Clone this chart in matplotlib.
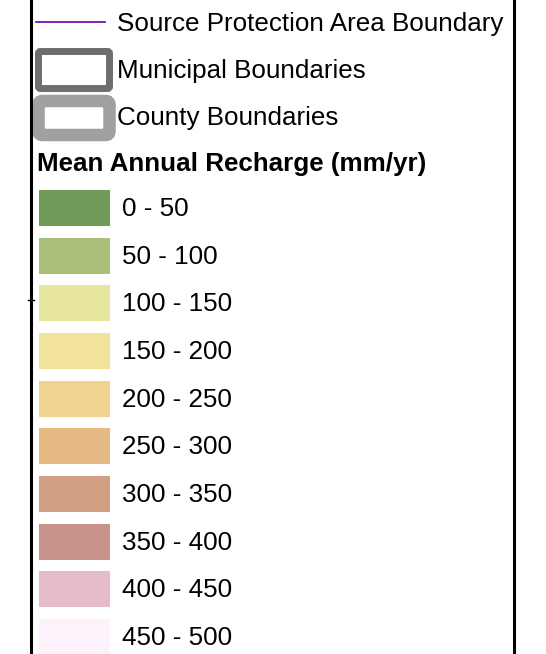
import matplotlib
matplotlib.use("Agg")
import matplotlib.pyplot as plt
from matplotlib.patches import Rectangle, FancyBboxPatch

plt.rcParams['font.family'] = ['Liberation Sans', 'DejaVu Sans']

# legend content
line_label = 'Source Protection Area Boundary'
box_labels = ['Municipal Boundaries', 'County Boundaries']
title = 'Mean Annual Recharge (mm/yr)'
class_labels = ['0 - 50', '50 - 100', '100 - 150', '150 - 200', '200 - 250',
                '250 - 300', '300 - 350', '350 - 400', '400 - 450', '450 - 500']
class_colors = ['#709a5a', '#aac07a', '#e6e69e', '#f2e39a', '#f0d38e',
                '#e4b983', '#d29e84', '#c8918a', '#e6bcc8', '#fdf2fc']

W, H = 546, 654
fig = plt.figure(figsize=(W / 100, H / 100), dpi=100)
ax = fig.add_axes([0, 0, 1, 1])
ax.set_xlim(0, W)
ax.set_ylim(H, 0)
ax.axis('off')

fs = 18.7

# frame lines on both sides
ax.plot([31, 31], [0, H], color='black', lw=2.2)
ax.plot([514, 514], [0, H], color='black', lw=2.2)
ax.plot([28, 34], [300, 300], color='black', lw=1)

# boundary line entry
ax.plot([36, 105], [22, 22], color='#8010b8', lw=1.3)
ax.text(117, 31, line_label, fontsize=fs, va='baseline', ha='left')

# municipal box
ax.add_patch(FancyBboxPatch((38.5, 51.5), 71, 37, boxstyle='round,pad=0,rounding_size=2',
                            facecolor='white', edgecolor='#6e6e6e', lw=5))
ax.text(117, 78, box_labels[0], fontsize=fs, va='baseline', ha='left')

# county box
ax.add_patch(FancyBboxPatch((38.5, 101), 71, 34, boxstyle='round,pad=0,rounding_size=4',
                            facecolor='white', edgecolor='#a0a0a0', lw=9))
ax.text(117, 124.5, box_labels[1], fontsize=fs, va='baseline', ha='left')

ax.text(37, 171.5, title, fontsize=fs, fontweight='bold', va='baseline', ha='left')

# recharge classes
top0, pitch, ph = 190, 47.67, 36
for i, (lab, col) in enumerate(zip(class_labels, class_colors)):
    y = top0 + i * pitch
    ax.add_patch(Rectangle((39, y), 71, ph, facecolor=col, edgecolor='none'))
    ax.text(122, y + 26, lab, fontsize=fs, va='baseline', ha='left')

fig.savefig('out.png', dpi=100)
